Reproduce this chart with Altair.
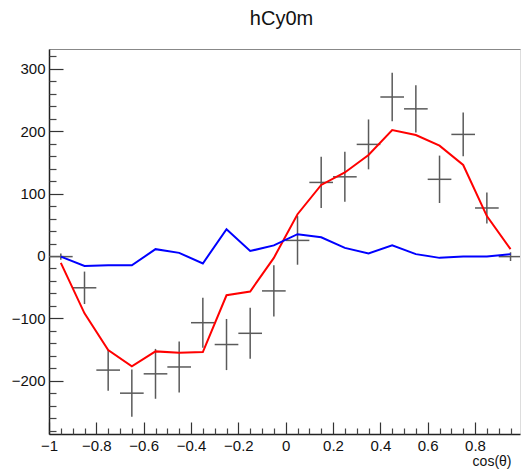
import altair as alt
import pandas as pd

# bin centres of the histogram (cos theta)
centers = [-0.95, -0.85, -0.75, -0.65, -0.55, -0.45, -0.35, -0.25, -0.15, -0.05,
           0.05, 0.15, 0.25, 0.35, 0.45, 0.55, 0.65, 0.75, 0.85, 0.95]
half_width = [0.05] * 20
data_vals = [-1, -51, -183, -220, -189, -178, -107, -142, -124, -56,
             25, 118, 127, 179, 255, 236, 123, 195, 77, -1]
data_errs = [5, 26, 33, 38, 40, 41, 40, 41, 41, 41,
             39, 41, 40, 40, 39, 38, 38, 35, 25, 7]
red_vals = [-11, -92, -151, -177, -153, -155, -154, -63, -57, -3,
            67, 114, 134, 162, 202, 194, 177, 146, 64, 11]
blue_vals = [-1, -16, -15, -15, 11, 5, -12, 43, 8, 17,
             35, 30, 13, 4, 17, 3, -3, -1, -1, 3]

x_major = [-1, -0.8, -0.6, -0.4, -0.2, 0, 0.2, 0.4, 0.6, 0.8]
x_minor = [-0.95, -0.9, -0.85, -0.75, -0.7, -0.65, -0.55, -0.5, -0.45, -0.35, -0.3, -0.25,
           -0.15, -0.1, -0.05, 0.05, 0.1, 0.15, 0.25, 0.3, 0.35, 0.45, 0.5, 0.55,
           0.65, 0.7, 0.75, 0.85, 0.9, 0.95]
y_major = [-200, -100, 0, 100, 200, 300]
y_minor = [-280, -260, -240, -220, -180, -160, -140, -120, -80, -60, -40, -20,
           20, 40, 60, 80, 120, 140, 160, 180, 220, 240, 260, 280, 320]

x_domain = [-1, 0.99]
y_domain = [-285.5, 332]

df = pd.DataFrame({
    "x": centers, "hw": half_width, "val": data_vals, "err": data_errs,
    "red": red_vals, "blue": blue_vals,
})

FONT = "Liberation Sans"
xs = alt.Scale(domain=x_domain, nice=False, zero=False)
ys = alt.Scale(domain=y_domain, nice=False, zero=False)

base = alt.Chart(df).transform_calculate(
    lo="datum.x - datum.hw", hi="datum.x + datum.hw",
    elo="datum.val - datum.err", ehi="datum.val + datum.err",
)

main_x_axis = alt.Axis(orient="bottom", values=x_major, format="~g", ticks=False,
                       grid=False, domain=True,
                       domainColor="#222", domainWidth=1.5, labelFont=FONT,
                       labelFontSize=15, labelColor="#111", labelPadding=4,
                       labelFlush=False, labelOverlap=False,
                       title="cos(θ)", titleFont=FONT, titleFontSize=14,
                       titleFontWeight="normal", titleColor="#111",
                       titleAlign="right", titleBaseline="alphabetic",
                       titleAnchor="end", titleX=462, titleY=31)
main_y_axis = alt.Axis(orient="left", values=y_major, format="d", ticks=False,
                       grid=False, domain=True,
                       domainColor="#222", domainWidth=1.5, labelFont=FONT,
                       labelFontSize=15, labelColor="#111", labelPadding=4,
                       labelFlush=False, labelOverlap=False, title=None)

hbar = base.mark_rule(color="#5a5a5a", strokeWidth=1.5, clip=True).encode(
    x=alt.X("lo:Q", scale=xs, axis=main_x_axis),
    x2="hi:Q",
    y=alt.Y("val:Q", scale=ys, axis=main_y_axis),
)

vbar = base.mark_rule(color="#5a5a5a", strokeWidth=1.5, clip=True).encode(
    x=alt.X("x:Q", scale=xs, axis=alt.Axis(orient="bottom", values=x_major, offset=-12,
                                            tickSize=12, tickColor="#333", tickWidth=1.2,
                                            labels=False, domain=False, grid=False,
                                            title=None)),
    y=alt.Y("elo:Q", scale=ys, axis=alt.Axis(orient="left", values=y_major, offset=-14,
                                              tickSize=14, tickColor="#333", tickWidth=1.2,
                                              labels=False, domain=False, grid=False,
                                              title=None)),
    y2="ehi:Q",
)

red = alt.Chart(df).mark_line(color="#ff0000", strokeWidth=2, clip=True).encode(
    x=alt.X("x:Q", scale=xs, axis=alt.Axis(orient="bottom", values=x_minor, offset=-6,
                                            tickSize=6, tickColor="#444", tickWidth=1.2,
                                            labels=False, domain=False, grid=False,
                                            title=None)),
    y=alt.Y("red:Q", scale=ys, axis=alt.Axis(orient="left", values=y_minor, offset=-7,
                                              tickSize=7, tickColor="#444", tickWidth=1.2,
                                              labels=False, domain=False, grid=False,
                                              title=None)),
)

blue = alt.Chart(df).mark_line(color="#0000ff", strokeWidth=2, clip=True).encode(
    x=alt.X("x:Q", scale=xs, axis=alt.Axis(orient="top", labels=False, ticks=False,
                                            domain=True, domainColor="#888",
                                            domainWidth=1.2, grid=False, title=None)),
    y=alt.Y("blue:Q", scale=ys, axis=None),
)

chart = alt.layer(hbar, vbar, red, blue).resolve_axis(
    x="independent", y="independent"
).properties(
    width=471, height=385,
    padding={"left": 49, "top": 49, "right": 1, "bottom": 39},
    autosize=alt.AutoSizeParams(type="none"),
    title=alt.TitleParams("hCy0m", font=FONT, fontSize=20, fontWeight="normal",
                          color="#111", anchor="middle", baseline="alphabetic",
                          offset=4, dx=-3),
).configure_view(stroke=None).configure(background="white")

chart.save("out.html", embed_options={"renderer": "svg", "actions": False})
